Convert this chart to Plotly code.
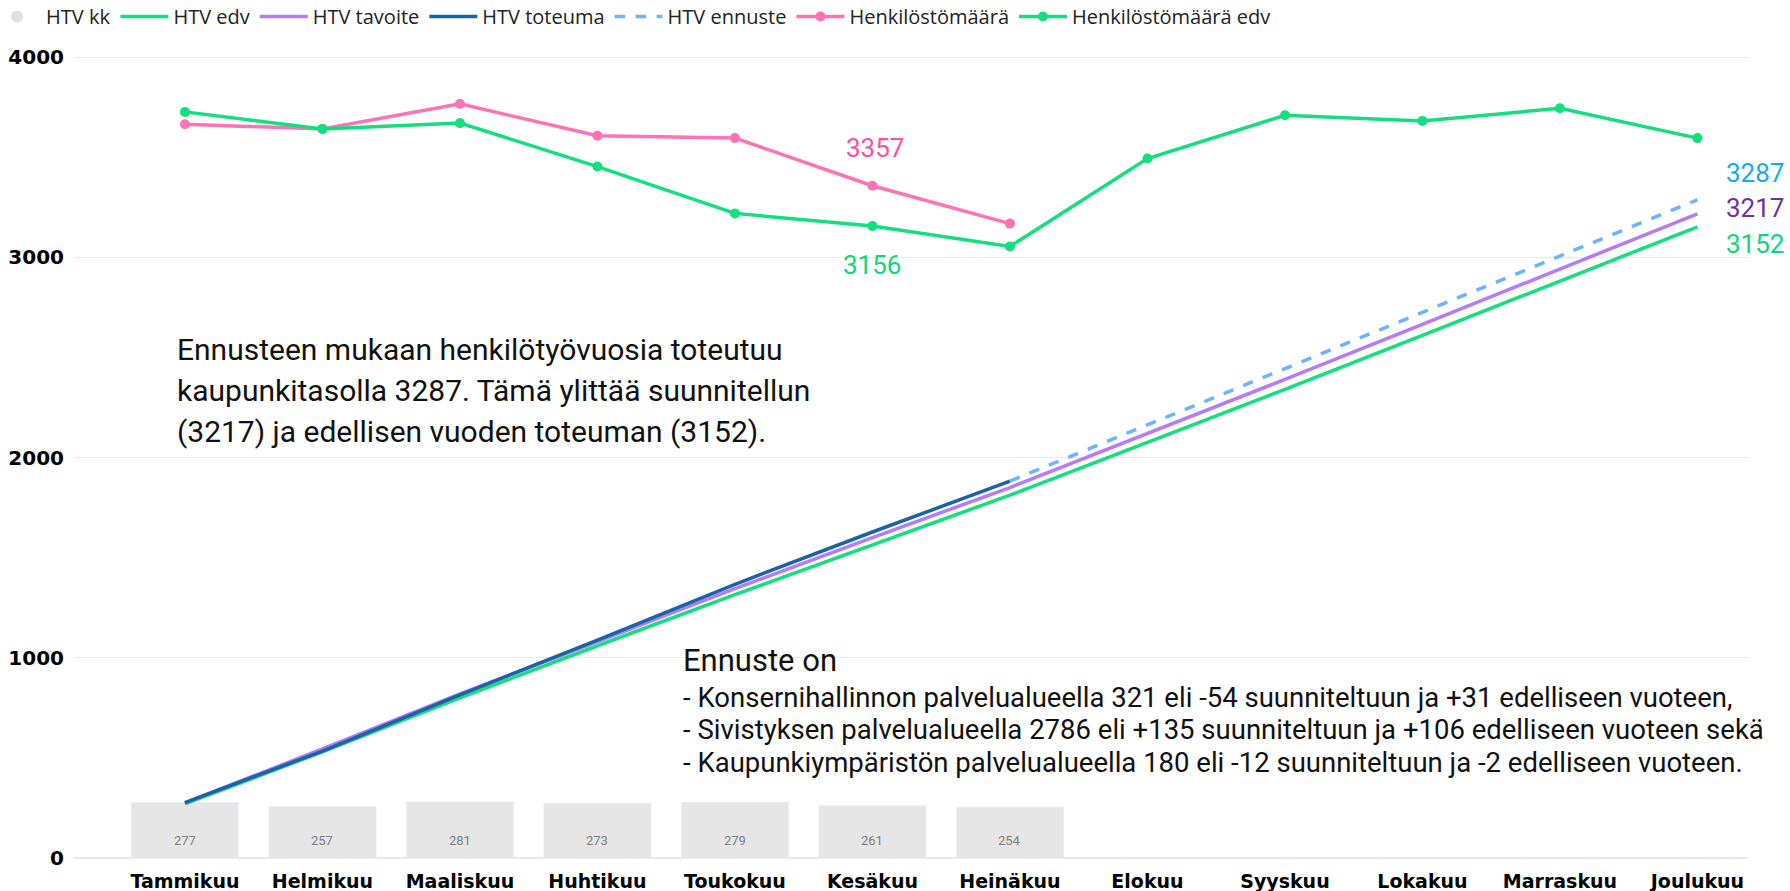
import plotly.graph_objects as go

months = ["Tammikuu", "Helmikuu", "Maaliskuu", "Huhtikuu", "Toukokuu", "Kesäkuu",
          "Heinäkuu", "Elokuu", "Syyskuu", "Lokakuu", "Marraskuu", "Joulukuu"]

htv_kk = [277, 257, 281, 273, 279, 261, 254]
htv_edv = [270, 530, 800, 1060, 1315, 1565, 1812, 2075, 2340, 2610, 2880, 3152]
htv_tavoite = [275, 545, 820, 1080, 1345, 1600, 1850, 2120, 2390, 2665, 2940, 3217]
htv_toteuma = [277, 534, 815, 1088, 1367, 1628, 1882]
htv_ennuste_months = ["Heinäkuu", "Elokuu", "Syyskuu", "Lokakuu", "Marraskuu", "Joulukuu"]
htv_ennuste = [1882, 2163, 2444, 2725, 3006, 3287]
henkilosto = [3664, 3641, 3766, 3607, 3595, 3357, 3168]
henkilosto_edv = [3726, 3641, 3670, 3453, 3219, 3156, 3054, 3493, 3709, 3681, 3744, 3595]

C_GREEN = "#14DF7E"
C_PINK = "#FF72B6"
C_PURPLE = "#B57CF7"
C_DBLUE = "#1A64A6"
C_LBLUE = "#6DB3FF"

FONT = "Roboto"
LEG_FONT = "Open Sans"

fig = go.Figure()
fig.add_trace(go.Bar(
    x=months[:len(htv_kk)], y=htv_kk, name="HTV kk", width=0.78,
    marker=dict(color="#E6E6E6"), showlegend=False, legendgroup="kk",
))
# legend entry for the bars (circle symbol as in the reference)
fig.add_trace(go.Scatter(x=[None], y=[None], name="HTV kk", mode="markers",
                         marker=dict(color="#E0E0E0", size=12, symbol="circle"),
                         legendgroup="kk"))
fig.add_trace(go.Scatter(x=months, y=htv_edv, name="HTV edv", mode="lines",
                         line=dict(color=C_GREEN, width=3.5)))
fig.add_trace(go.Scatter(x=months, y=htv_tavoite, name="HTV tavoite", mode="lines",
                         line=dict(color=C_PURPLE, width=3.5)))
fig.add_trace(go.Scatter(x=months[:len(htv_toteuma)], y=htv_toteuma, name="HTV toteuma", mode="lines",
                         line=dict(color=C_DBLUE, width=3.5)))
fig.add_trace(go.Scatter(x=htv_ennuste_months, y=htv_ennuste, name="HTV ennuste", mode="lines",
                         line=dict(color=C_LBLUE, width=3.5, dash="dash")))
fig.add_trace(go.Scatter(x=months[:len(henkilosto)], y=henkilosto, name="Henkilöstömäärä",
                         mode="lines+markers", line=dict(color=C_PINK, width=3.5),
                         marker=dict(size=10, color=C_PINK)))
fig.add_trace(go.Scatter(x=months, y=henkilosto_edv, name="Henkilöstömäärä edv",
                         mode="lines+markers", line=dict(color=C_GREEN, width=3.5),
                         marker=dict(size=10, color=C_GREEN)))

annotations = []
# bar value labels
for m, v in zip(months, htv_kk):
    annotations.append(dict(x=m, y=0, text=str(v), showarrow=False, yanchor="middle", yshift=18,
                            font=dict(color="#7F7F7F", size=13, family=FONT)))
# point labels
annotations.append(dict(x="Kesäkuu", y=henkilosto[5], text=str(henkilosto[5]), showarrow=False,
                        yshift=38, xshift=3, font=dict(color="#FF4FA3", size=26, family=FONT)))
annotations.append(dict(x="Kesäkuu", y=henkilosto_edv[5], text=str(henkilosto_edv[5]), showarrow=False,
                        yshift=-39, font=dict(color="#10D67A", size=26, family=FONT)))
# end labels
annotations.append(dict(x="Joulukuu", y=htv_ennuste[-1], text=str(htv_ennuste[-1]), showarrow=False,
                        xanchor="left", xshift=27, yshift=27, font=dict(color="#1AAAF0", size=26, family=FONT)))
annotations.append(dict(x="Joulukuu", y=htv_tavoite[-1], text=str(htv_tavoite[-1]), showarrow=False,
                        xanchor="left", xshift=27, yshift=6, font=dict(color="#7030A0", size=26, family=FONT)))
annotations.append(dict(x="Joulukuu", y=htv_edv[-1], text=str(htv_edv[-1]), showarrow=False,
                        xanchor="left", xshift=27, yshift=-17, font=dict(color="#10D67A", size=26, family=FONT)))

# text blocks (paper coordinates)
W, H = 1790, 891
ML, MR, MT, MB = 74, 41, 51, 33
PW, PH = W - ML - MR, H - MT - MB

def px(x):
    return (x - ML) / PW

def py(y):
    return 1 - (y - MT) / PH

big_lines = ["Ennusteen mukaan henkilötyövuosia toteutuu",
             "kaupunkitasolla 3287. Tämä ylittää suunnitellun",
             "(3217) ja edellisen vuoden toteuman (3152)."]
for i, t in enumerate(big_lines):
    annotations.append(dict(xref="paper", yref="paper", x=px(175), y=py(349 + 41 * i), text=t,
                            showarrow=False, xanchor="left", yanchor="middle",
                            font=dict(color="#111111", size=30, family=FONT)))

annotations.append(dict(xref="paper", yref="paper", x=px(681), y=py(660), text="Ennuste on",
                        showarrow=False, xanchor="left", yanchor="middle",
                        font=dict(color="#111111", size=31, family=FONT)))
small_lines = ["- Konsernihallinnon palvelualueella 321 eli -54 suunniteltuun ja +31 edelliseen vuoteen,",
               "- Sivistyksen palvelualueella 2786 eli +135 suunniteltuun ja +106 edelliseen vuoteen sekä",
               "- Kaupunkiympäristön palvelualueella 180 eli -12 suunniteltuun ja -2 edelliseen vuoteen."]
for i, t in enumerate(small_lines):
    annotations.append(dict(xref="paper", yref="paper", x=px(681), y=py(697 + 32.5 * i), text=t,
                            showarrow=False, xanchor="left", yanchor="middle",
                            font=dict(color="#111111", size=27.5, family=FONT)))

fig.update_layout(
    width=W, height=H,
    margin=dict(l=ML, r=MR, t=MT, b=MB, autoexpand=False),
    plot_bgcolor="white", paper_bgcolor="white",
    font=dict(family=FONT, color="#111111"),
    showlegend=True,
    legend=dict(orientation="h", x=px(-12), y=py(-3), xanchor="left", yanchor="top",
                font=dict(size=20, family=LEG_FONT, color="#222222"), traceorder="normal",
                itemwidth=48, tracegroupgap=0, bgcolor="rgba(0,0,0,0)"),
    xaxis=dict(type="category", range=[-0.807, 11.375], showgrid=False, zeroline=False,
               tickfont=dict(size=19, family="DejaVu Sans", color="#000000", weight="bold"),
               ticks="", showline=False, automargin=False, ticklabelstandoff=10),
    yaxis=dict(range=[0, 4030], tickvals=[0, 1000, 2000, 3000, 4000], showgrid=True,
               gridcolor="#EBEBEB", gridwidth=1, zeroline=True, zerolinecolor="#EBEBEB",
               tickfont=dict(size=20, family="DejaVu Sans", color="#000000", weight="bold"),
               ticks="", showline=False, automargin=False, ticklabelstandoff=9),
    annotations=annotations,
)

fig.write_html("out.html", config={"displayModeBar": False},
               post_script="document.body.style.margin='0';document.body.style.overflow='hidden';")
